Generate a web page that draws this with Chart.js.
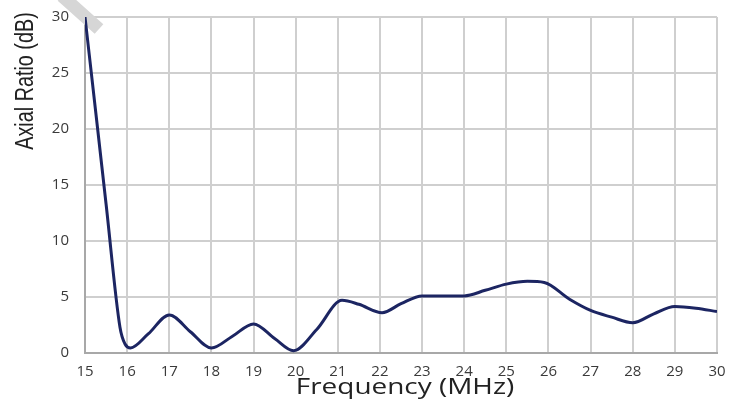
<!DOCTYPE html>
<html>
<head>
<meta charset="utf-8">
<script src="https://cdn.jsdelivr.net/npm/chart.js@4/dist/chart.umd.min.js"></script>
<style>
  html, body { margin: 0; padding: 0; background: #ffffff; }
  #wrap { width: 731px; height: 407px; position: relative; }
</style>
</head>
<body>
<div id="wrap"><canvas id="c" width="731" height="407"></canvas></div>
<script>
// Axial ratio versus frequency
const frequencyMHz = [15, 15.3, 15.5, 15.83, 15.95, 16.08, 16.5, 17, 17.5, 18, 18.5, 19, 19.5, 19.95,
  20.5, 21.1, 21.5, 22.05, 22.5, 23, 23.5, 24, 24.5, 25, 25.5, 25.9, 26.5, 27, 27.5, 28, 28.5, 29, 29.5, 30];
const axialRatioDb = [30, 20.0, 13.3, 2.3, 0.8, 0.45, 1.7, 3.4, 1.9, 0.45, 1.5, 2.6, 1.3, 0.2,
  2.1, 4.7, 4.35, 3.6, 4.4, 5.1, 5.1, 5.1, 5.6, 6.15, 6.4, 6.3, 4.8, 3.8, 3.2, 2.7, 3.5, 4.15, 4.0, 3.7];
const xTickValues = [15, 16, 17, 18, 19, 20, 21, 22, 23, 24, 25, 26, 27, 28, 29, 30];
const yTickValues = [0, 5, 10, 15, 20, 25, 30];
const xTitle = 'Frequency (MHz)';
const yTitle = 'Axial Ratio (dB)';

const points = frequencyMHz.map((f, i) => ({ x: f, y: axialRatioDb[i] }));

const titlesPlugin = {
  id: 'titles',
  beforeDatasetsDraw(chart) {
    const ctx = chart.ctx;
    // light grey diagonal stroke near the top-left corner
    ctx.save();
    ctx.strokeStyle = '#d6d6d6';
    ctx.lineWidth = 13;
    ctx.lineCap = 'butt';
    ctx.beginPath();
    ctx.moveTo(62, -4);
    ctx.lineTo(99, 29);
    ctx.stroke();
    ctx.restore();
  },
  afterDraw(chart) {
    const ctx = chart.ctx;
    // x axis title, drawn wide
    ctx.save();
    ctx.fillStyle = '#222222';
    ctx.font = '21px "Open Sans"';
    ctx.textAlign = 'center';
    ctx.textBaseline = 'alphabetic';
    ctx.translate(405, 394);
    ctx.scale(1.33, 1);
    ctx.fillText(xTitle, 0, 0);
    ctx.restore();

    // y axis title, rotated, near the top of the axis
    ctx.save();
    ctx.fillStyle = '#222222';
    ctx.font = '18px "Liberation Sans"';
    ctx.translate(33, 81);
    ctx.rotate(-Math.PI / 2);
    ctx.scale(1.1, 1.4);
    ctx.textAlign = 'center';
    ctx.textBaseline = 'alphabetic';
    ctx.fillText(yTitle, 0, 0);
    ctx.restore();
  }
};

new Chart(document.getElementById('c'), {
  type: 'line',
  data: {
    datasets: [{
      data: points,
      borderColor: '#1c2562',
      borderWidth: 3,
      pointRadius: 0,
      fill: false,
      cubicInterpolationMode: 'monotone'
    }]
  },
  options: {
    responsive: false,
    animation: false,
    events: [],
    layout: { autoPadding: false, padding: { top: 17, right: 14, left: 0, bottom: 0 } },
    plugins: { legend: { display: false }, tooltip: { enabled: false } },
    scales: {
      x: {
        type: 'linear',
        min: xTickValues[0],
        max: xTickValues[xTickValues.length - 1],
        afterBuildTicks(scale) { scale.ticks = xTickValues.map(v => ({ value: v })); },
        afterFit(scale) {
          scale.height = 54;
          scale.paddingLeft = 0;
          scale.paddingRight = 0;
        },
        grid: { color: '#cfcfcf', lineWidth: 2, drawTicks: false },
        border: { color: '#a8a8a8', width: 2 },
        ticks: {
          padding: 10,
          color: '#3a3a3a',
          font: { family: 'Open Sans', size: 15 },
          maxRotation: 0,
          autoSkip: false
        }
      },
      y: {
        min: yTickValues[0],
        max: yTickValues[yTickValues.length - 1],
        afterBuildTicks(scale) { scale.ticks = yTickValues.map(v => ({ value: v })); },
        afterFit(scale) {
          scale.width = 85;
          scale.paddingTop = 0;
          scale.paddingBottom = 0;
        },
        grid: { color: '#cfcfcf', lineWidth: 2, drawTicks: false },
        border: { color: '#a8a8a8', width: 2 },
        ticks: {
          padding: 16,
          color: '#3a3a3a',
          font: { family: 'Open Sans', size: 15 }
        }
      }
    }
  },
  plugins: [titlesPlugin]
});
</script>
</body>
</html>
